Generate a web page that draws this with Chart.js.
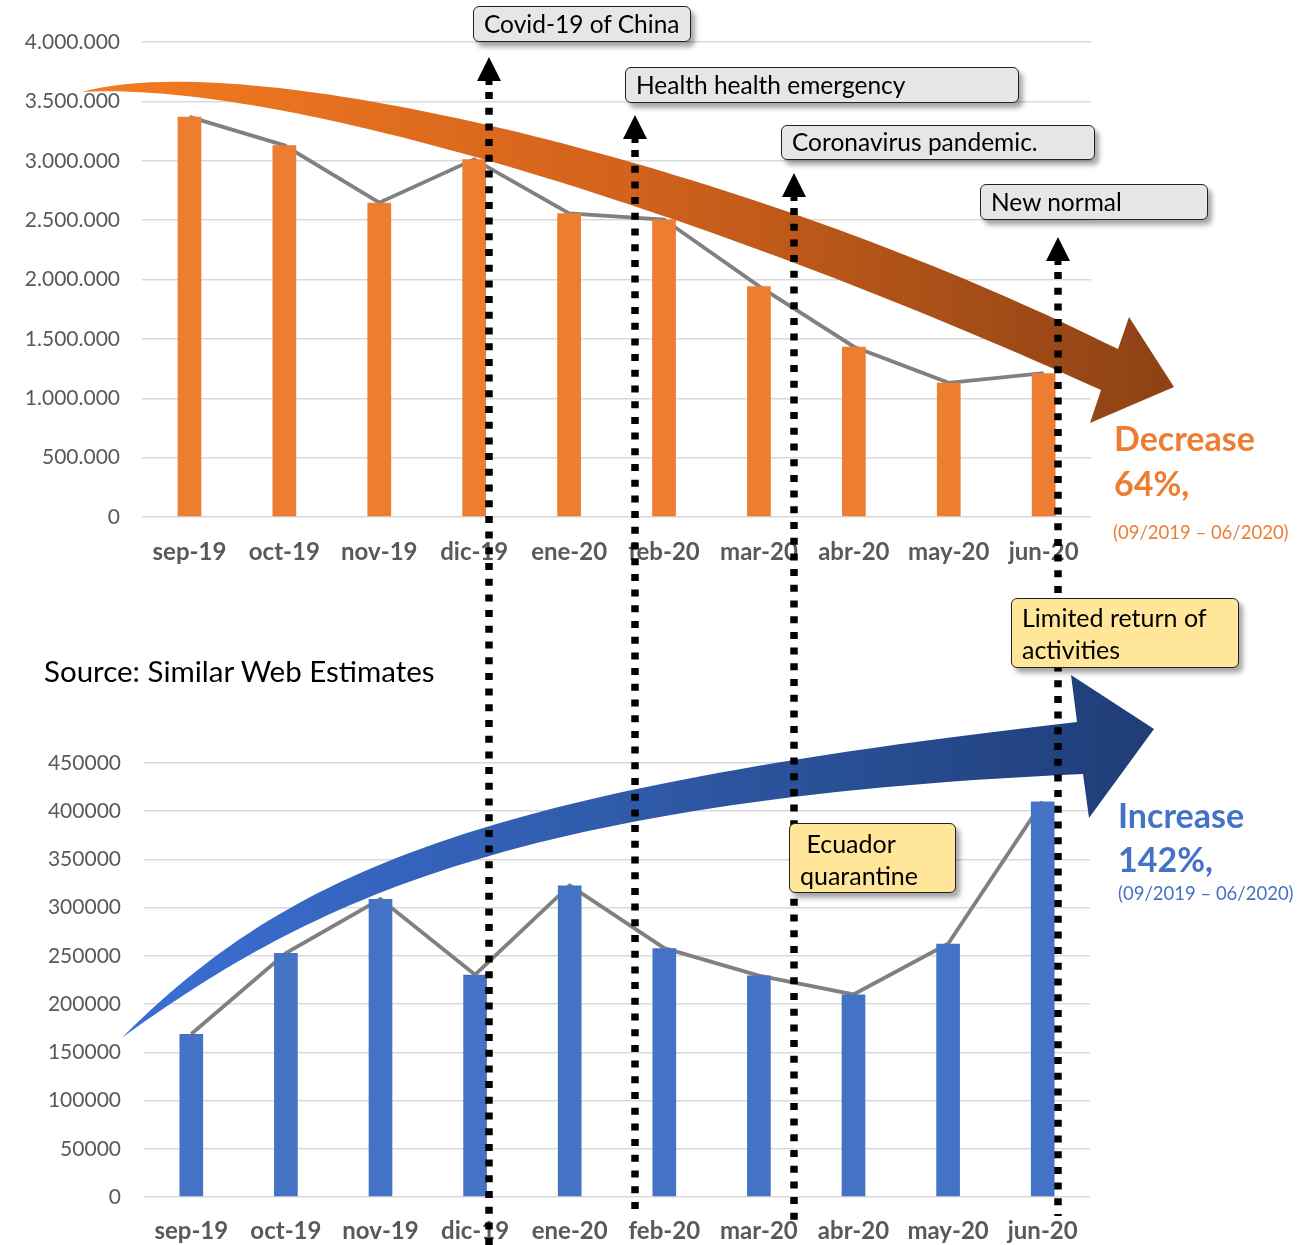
<!DOCTYPE html>
<html>
<head>
<meta charset="utf-8">
<script src="https://cdn.jsdelivr.net/npm/chart.js@4/dist/chart.umd.min.js"></script>
<style>
  body { margin: 0; background: #fff; font-family: Lato, sans-serif; }
  #page { position: relative; width: 1315px; height: 1245px; overflow: hidden; }
  canvas { position: absolute; }
  #overlay { z-index: 2; left: 0; top: 0; }
  .box { position: absolute; z-index: 3; box-sizing: border-box; background: #e7e6e6;
         border: 1.5px solid #222; border-radius: 6px; box-shadow: 4px 5px 5px rgba(0,0,0,.35);
         font-size: 24.5px; color: #000; padding-left: 10px; white-space: nowrap; }
  .yellow { background: #ffe699; font-size: 25px; }
  .txt { position: absolute; z-index: 3; white-space: nowrap; }
</style>
</head>
<body>
<div id="page">
  <canvas id="topChart" width="1100" height="580" style="left:0;top:0"></canvas>
  <canvas id="bottomChart" width="1100" height="545" style="left:0;top:700px"></canvas>
  <canvas id="overlay" width="1315" height="1245"></canvas>

  <div class="box" style="left:473px;top:6px;width:218px;height:36px;line-height:33px">Covid-19 of China</div>
  <div class="box" style="left:625px;top:67px;width:394px;height:36px;line-height:33px">Health health emergency</div>
  <div class="box" style="left:781px;top:125px;width:314px;height:35px;line-height:32px">Coronavirus pandemic.</div>
  <div class="box" style="left:980px;top:184px;width:228px;height:36px;line-height:33px">New normal</div>
  <div class="box yellow" style="left:1011px;top:598px;width:228px;height:70px;line-height:32px;padding-top:2px">Limited return of<br>activities</div>
  <div class="box yellow" style="left:789px;top:823px;width:167px;height:70px;line-height:32px;padding-top:3px">&nbsp;Ecuador<br>quarantine</div>

  <div class="txt" style="left:1114px;top:418px;font-size:34px;line-height:40px;font-weight:bold;color:#ed7d31">Decrease</div>
  <div class="txt" style="left:1114px;top:463px;font-size:34px;line-height:40px;font-weight:bold;color:#ed7d31">64%,</div>
  <div class="txt" style="left:1113px;top:521px;font-size:18.5px;line-height:22px;color:#ed7d31">(09/2019 – 06/2020)</div>
  <div class="txt" style="left:1118px;top:795px;font-size:34px;line-height:40px;font-weight:bold;color:#4472c4">Increase</div>
  <div class="txt" style="left:1118px;top:839px;font-size:34px;line-height:40px;font-weight:bold;color:#4472c4">142%,</div>
  <div class="txt" style="left:1118px;top:882px;font-size:18.5px;line-height:22px;color:#4472c4">(09/2019 – 06/2020)</div>
  <div class="txt" style="left:44px;top:653px;font-size:29.5px;line-height:35px;color:#000">Source: Similar Web Estimates</div>
</div>

<script>
// months on both x axes
const months = ['sep-19', 'oct-19', 'nov-19', 'dic-19', 'ene-20', 'feb-20', 'mar-20', 'abr-20', 'may-20', 'jun-20'];

// top chart: monthly visits (orange)
const topValues = [3370000, 3130000, 2647000, 3012000, 2557000, 2505000, 1944000, 1434000, 1130000, 1211000];
const topTicks = [0, 500000, 1000000, 1500000, 2000000, 2500000, 3000000, 3500000, 4000000];

// bottom chart: monthly visits (blue)
const bottomValues = [169000, 253000, 309000, 230500, 323000, 258000, 229600, 210000, 262600, 410000];
const bottomTicks = [0, 50000, 100000, 150000, 200000, 250000, 300000, 350000, 400000, 450000];

// events marked with dotted arrows (position in category units)
const eventPos = [3.158, 4.695, 6.368, 9.147];
const eventTipY = [57, 115, 173, 237];
const eventEndY = [1245, 1214, 1222, 1216];

function dots(v) {
  return String(v).replace(/\B(?=(\d{3})+(?!\d))/g, '.');
}

function makeChart(id, values, ticks, color, fmt, cfg) {
  return new Chart(document.getElementById(id), {
    type: 'bar',
    data: {
      labels: months,
      datasets: [
        { type: 'bar', data: values, backgroundColor: color, order: 1,
          barPercentage: 0.25, categoryPercentage: 1 },
        { type: 'line', data: values, borderColor: '#808080', borderWidth: 3.8,
          pointRadius: 0, tension: 0, order: 2 }
      ]
    },
    options: {
      responsive: false,
      animation: false,
      layout: { padding: cfg.padding },
      plugins: { legend: { display: false }, tooltip: { enabled: false } },
      scales: {
        x: {
          grid: { display: false, drawTicks: false },
          border: { display: false },
          ticks: { color: '#595959', padding: cfg.xPad, font: { family: 'Lato', size: 24, weight: 'bold' } },
          afterFit: s => { s.height = cfg.xHeight; }
        },
        y: {
          min: 0,
          max: ticks[ticks.length - 1],
          afterBuildTicks: s => { s.ticks = ticks.map(v => ({ value: v })); },
          grid: { color: '#d9d9d9', lineWidth: 1.5, drawTicks: false },
          border: { display: false },
          ticks: { color: '#595959', padding: cfg.yPad, font: { family: 'Lato', size: 21 },
                   callback: v => fmt(v) },
          afterFit: s => { s.width = cfg.yWidth; }
        }
      }
    }
  });
}

const topChart = makeChart('topChart', topValues, topTicks, '#ed7d31', dots,
  { padding: { top: 42, right: 7, left: 0, bottom: 0 }, xHeight: 63, xPad: 21, yPad: 22, yWidth: 142 });
const bottomChart = makeChart('bottomChart', bottomValues, bottomTicks, '#4472c4', v => String(v),
  { padding: { top: 63, right: 10, left: 0, bottom: 0 }, xHeight: 48, xPad: 20, yPad: 23, yWidth: 144 });

// overlay: big trend arrows and dotted event arrows
const ctx = document.getElementById('overlay').getContext('2d');

function bandArrow(upper, lower, head, stops) {
  const g = ctx.createLinearGradient(upper[0][0], 0, head[1][0], 0);
  stops.forEach(s => g.addColorStop(s[0], s[1]));
  ctx.beginPath();
  ctx.moveTo(upper[0][0], upper[0][1]);
  ctx.bezierCurveTo(upper[1][0], upper[1][1], upper[2][0], upper[2][1], upper[3][0], upper[3][1]);
  head.forEach(p => ctx.lineTo(p[0], p[1]));
  ctx.lineTo(lower[3][0], lower[3][1]);
  ctx.bezierCurveTo(lower[2][0], lower[2][1], lower[1][0], lower[1][1], lower[0][0], lower[0][1]);
  ctx.closePath();
  ctx.fillStyle = g;
  ctx.fill();
}

bandArrow(
  [[82, 92], [250, 45], [750, 165], [1118, 349]],
  [[82, 92], [300, 80], [750, 230], [1101, 390]],
  [[1129, 317], [1174, 387], [1090, 423]],
  [[0, '#f47c21'], [0.5, '#d2621c'], [1, '#8c4215']]
);

bandArrow(
  [[122, 1038], [290, 870], [480, 790], [1077, 722]],
  [[122, 1038], [300, 910], [500, 800], [1083, 774]],
  [[1071, 675], [1154, 729], [1089, 818]],
  [[0, '#3a6fd3'], [0.5, '#2f5aa8'], [1, '#1f3d77']]
);

eventPos.forEach((pos, i) => {
  const x = Math.round(topChart.scales.x.getPixelForValue(pos));
  const tip = eventTipY[i];
  ctx.fillStyle = '#000';
  ctx.beginPath();
  ctx.moveTo(x, tip);
  ctx.lineTo(x + 12, tip + 24);
  ctx.lineTo(x - 12, tip + 24);
  ctx.closePath();
  ctx.fill();
  ctx.fillRect(x - 3.5, tip + 23, 7, 5);
  ctx.save();
  ctx.strokeStyle = '#000';
  ctx.lineWidth = 7.5;
  ctx.setLineDash([7, 8.7]);
  ctx.beginPath();
  ctx.moveTo(x, tip + 35);
  ctx.lineTo(x, eventEndY[i]);
  ctx.stroke();
  ctx.restore();
});
</script>
</body>
</html>
